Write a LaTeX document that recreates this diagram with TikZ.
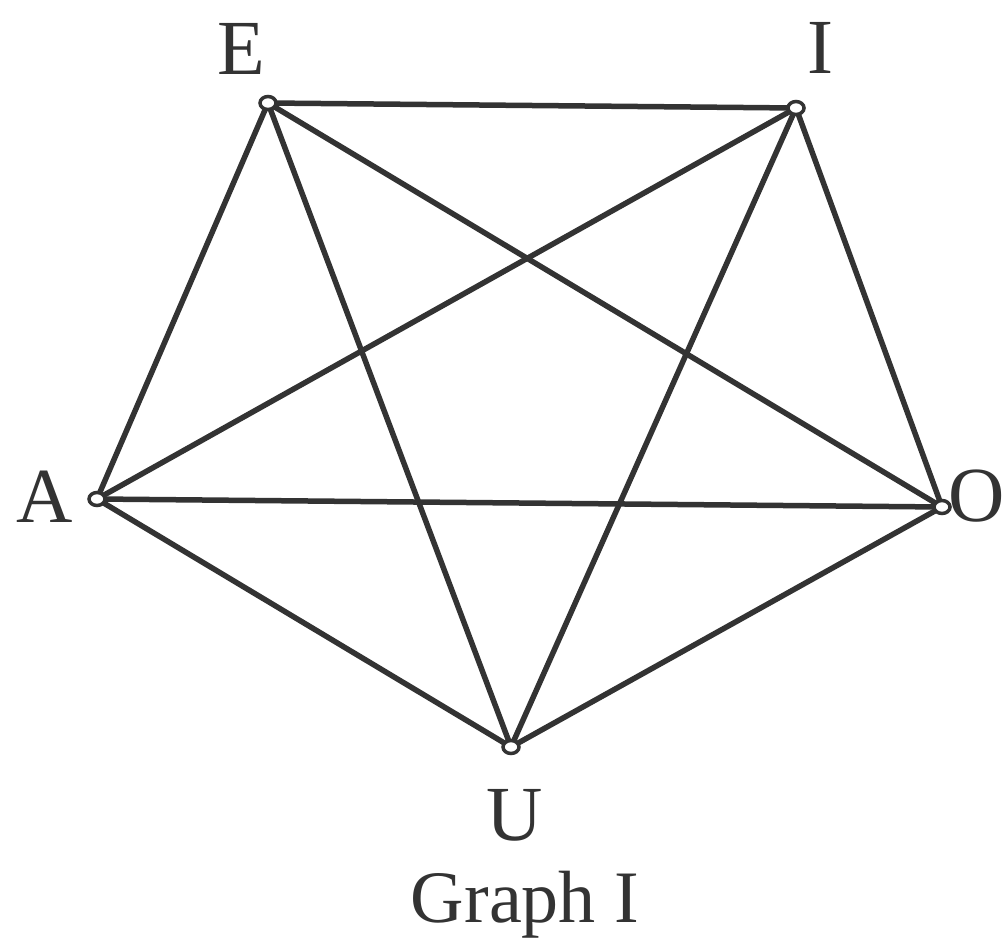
\documentclass[tikz,border=0pt]{standalone}
\usepackage{fontspec}
\setmainfont{Liberation Serif}
\usetikzlibrary{shapes.geometric}
\definecolor{ink}{HTML}{333333}
\begin{document}
\begin{tikzpicture}[x=1pt,y=-1pt,
  vtx/.style={ellipse,draw=ink,line width=3.5pt,fill=white,inner sep=0pt,minimum width=16pt,minimum height=13pt},
  edge/.style={draw=ink,line width=5.5pt},
  lbl/.style={anchor=base,inner sep=0pt,text=ink,font=\fontsize{78}{80}\selectfont}]
\useasboundingbox (0,0) rectangle (1004,947);
\coordinate (pE) at (268,103);
\coordinate (pI) at (796,108);
\coordinate (pA) at (97,499);
\coordinate (pO) at (942,507);
\coordinate (pU) at (511,747);
\draw[edge] (pE) -- (pI);
\draw[edge] (pE) -- (pA);
\draw[edge] (pE) -- (pO);
\draw[edge] (pE) -- (pU);
\draw[edge] (pI) -- (pA);
\draw[edge] (pI) -- (pO);
\draw[edge] (pI) -- (pU);
\draw[edge] (pA) -- (pO);
\draw[edge] (pA) -- (pU);
\draw[edge] (pO) -- (pU);
\node[vtx] (E) at (pE) {};
\node[vtx] (I) at (pI) {};
\node[vtx] (A) at (pA) {};
\node[vtx] (O) at (pO) {};
\node[vtx] (U) at (pU) {};
\node[lbl] (lE) at (241,75) {E};
\node[lbl] (lI) at (820,74) {I};
\node[lbl] (lA) at (45,522) {A};
\node[lbl,anchor=base west] (lO) at (948,521) {O};
\node[lbl] (lU) at (515,840) {U};
\node[lbl,font=\fontsize{74}{76}\selectfont] (cap) at (525,922) {Graph I};
\end{tikzpicture}
\end{document}
